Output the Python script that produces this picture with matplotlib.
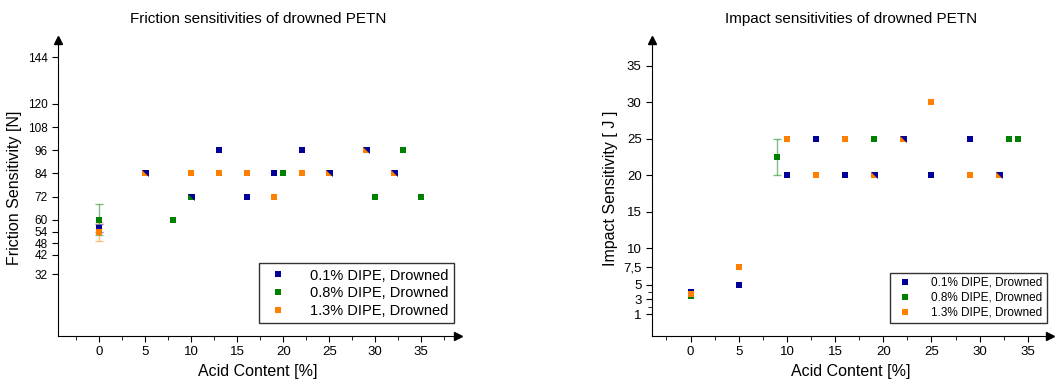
import numpy as np
import matplotlib.pyplot as plt

plt.rcParams['font.family'] = ['Liberation Sans', 'DejaVu Sans']

series_names = ['0.1% DIPE, Drowned', '0.8% DIPE, Drowned', '1.3% DIPE, Drowned']
colors = ['#000099', '#008000', '#ff8000']

# friction data
fr_x = [
    [0, 5, 10, 13, 16, 19, 22, 25, 29, 32],
    [0, 8, 10, 20, 30, 33, 35],
    [0, 5, 10, 13, 16, 19, 22, 25, 29, 32],
]
fr_y = [
    [56, 84, 72, 96, 72, 84, 96, 84, 96, 84],
    [60, 60, 72, 84, 72, 96, 72],
    [54, 84, 84, 84, 84, 72, 84, 84, 96, 84],
]
fr_err = [(0, 56, 2), (0, 60, 8), (0, 54, 5)]  # x, y, err per series
fr_yticks = [32, 42, 48, 54, 60, 72, 84, 96, 108, 120, 144]

# impact data
im_x = [
    [0, 5, 10, 13, 16, 19, 22, 25, 29, 32],
    [0, 9, 19, 33, 34],
    [0, 5, 10, 13, 16, 19, 22, 25, 29, 32],
]
im_y = [
    [4, 5, 20, 25, 20, 20, 25, 20, 25, 20],
    [3.5, 22.5, 25, 25, 25],
    [3.7, 7.5, 25, 20, 25, 20, 25, 30, 20, 20],
]
im_err = [None, (9, 22.5, 2.5), None]
im_yticks = [1, 3, 5, 7.5, 10, 15, 20, 25, 30, 35]
im_yticklabels = ['1', '3', '5', '7,5', '10', '15', '20', '25', '30', '35']

xticks = [0, 5, 10, 15, 20, 25, 30, 35]

# blue upper-right half for coinciding points
half_marker = [(-1, 1), (1, 1), (1, -1), (-1, 1)]
ms = 5


def draw(ax, xs, ys, errs, title, ylabel):
    for i in range(3):
        e = errs[i]
        if e is not None:
            ax.errorbar([e[0]], [e[1]], yerr=[e[2]], fmt='none', ecolor=colors[i],
                        alpha=0.5, capsize=3, elinewidth=1, zorder=2)
    for i in range(3):
        ax.plot(xs[i], ys[i], 's', color=colors[i], ms=ms, mew=0,
                label=series_names[i], zorder=3)
    # overlapping blue points
    others = set()
    for i in (1, 2):
        others |= set(zip(xs[i], ys[i]))
    ov = [p for p in zip(xs[0], ys[0]) if p in others]
    if ov:
        ax.plot([p[0] for p in ov], [p[1] for p in ov], marker=half_marker,
                ls='none', color=colors[0], ms=ms, mew=0, zorder=4)
    ax.spines['top'].set_visible(False)
    ax.spines['right'].set_visible(False)
    ax.plot(1, 0, '>k', ms=6, transform=ax.transAxes, clip_on=False)
    ax.plot(0, 1, '^k', ms=6, transform=ax.transAxes, clip_on=False)
    ax.set_xticks(xticks)
    ax.set_xticks(np.arange(-2.5, 38, 5), minor=True)
    ax.tick_params(direction='out', length=4, labelsize=9.5)
    ax.tick_params(which='minor', length=3)
    ax.set_xlabel('Acid Content [%]', fontsize=11.5)
    ax.set_ylabel(ylabel, fontsize=11.5)
    ax.set_title(title, fontsize=11, pad=12)


fig = plt.figure(figsize=(10.62, 3.83), dpi=100)
ax1 = fig.add_axes([58 / 1062, 47 / 383, 400 / 1062, 296 / 383])
ax2 = fig.add_axes([652 / 1062, 47 / 383, 398 / 1062, 296 / 383])

draw(ax1, fr_x, fr_y, fr_err, 'Friction sensitivities of drowned PETN',
     'Friction Sensitivity [N]')
ax1.set_xlim(-4.5, 39)
ax1.set_ylim(0, 153)
ax1.set_yticks(fr_yticks)
ax1.tick_params(axis='y', labelsize=8.5)
ax1.legend(loc='lower right', bbox_to_anchor=(0.99, 0.044), borderaxespad=0,
           fancybox=False, edgecolor='#333333', framealpha=1, fontsize=10.5,
           handletextpad=1.2, borderpad=0.35, labelspacing=0.25)

draw(ax2, im_x, im_y, im_err, 'Impact sensitivities of drowned PETN',
     'Impact Sensitivity [ J ]')
ax2.set_xlim(-4, 37.3)
ax2.set_ylim(-2, 38.5)
ax2.set_yticks(im_yticks)
ax2.set_yticklabels(im_yticklabels)
ax2.set_yticks([2, 4], minor=True)
ax2.legend(loc='lower right', bbox_to_anchor=(0.992, 0.044), borderaxespad=0,
           fancybox=False, edgecolor='#333333', framealpha=1, fontsize=8.5,
           handletextpad=1.2, borderpad=0.35, labelspacing=0.25)

fig.savefig('out.png', dpi=100)
